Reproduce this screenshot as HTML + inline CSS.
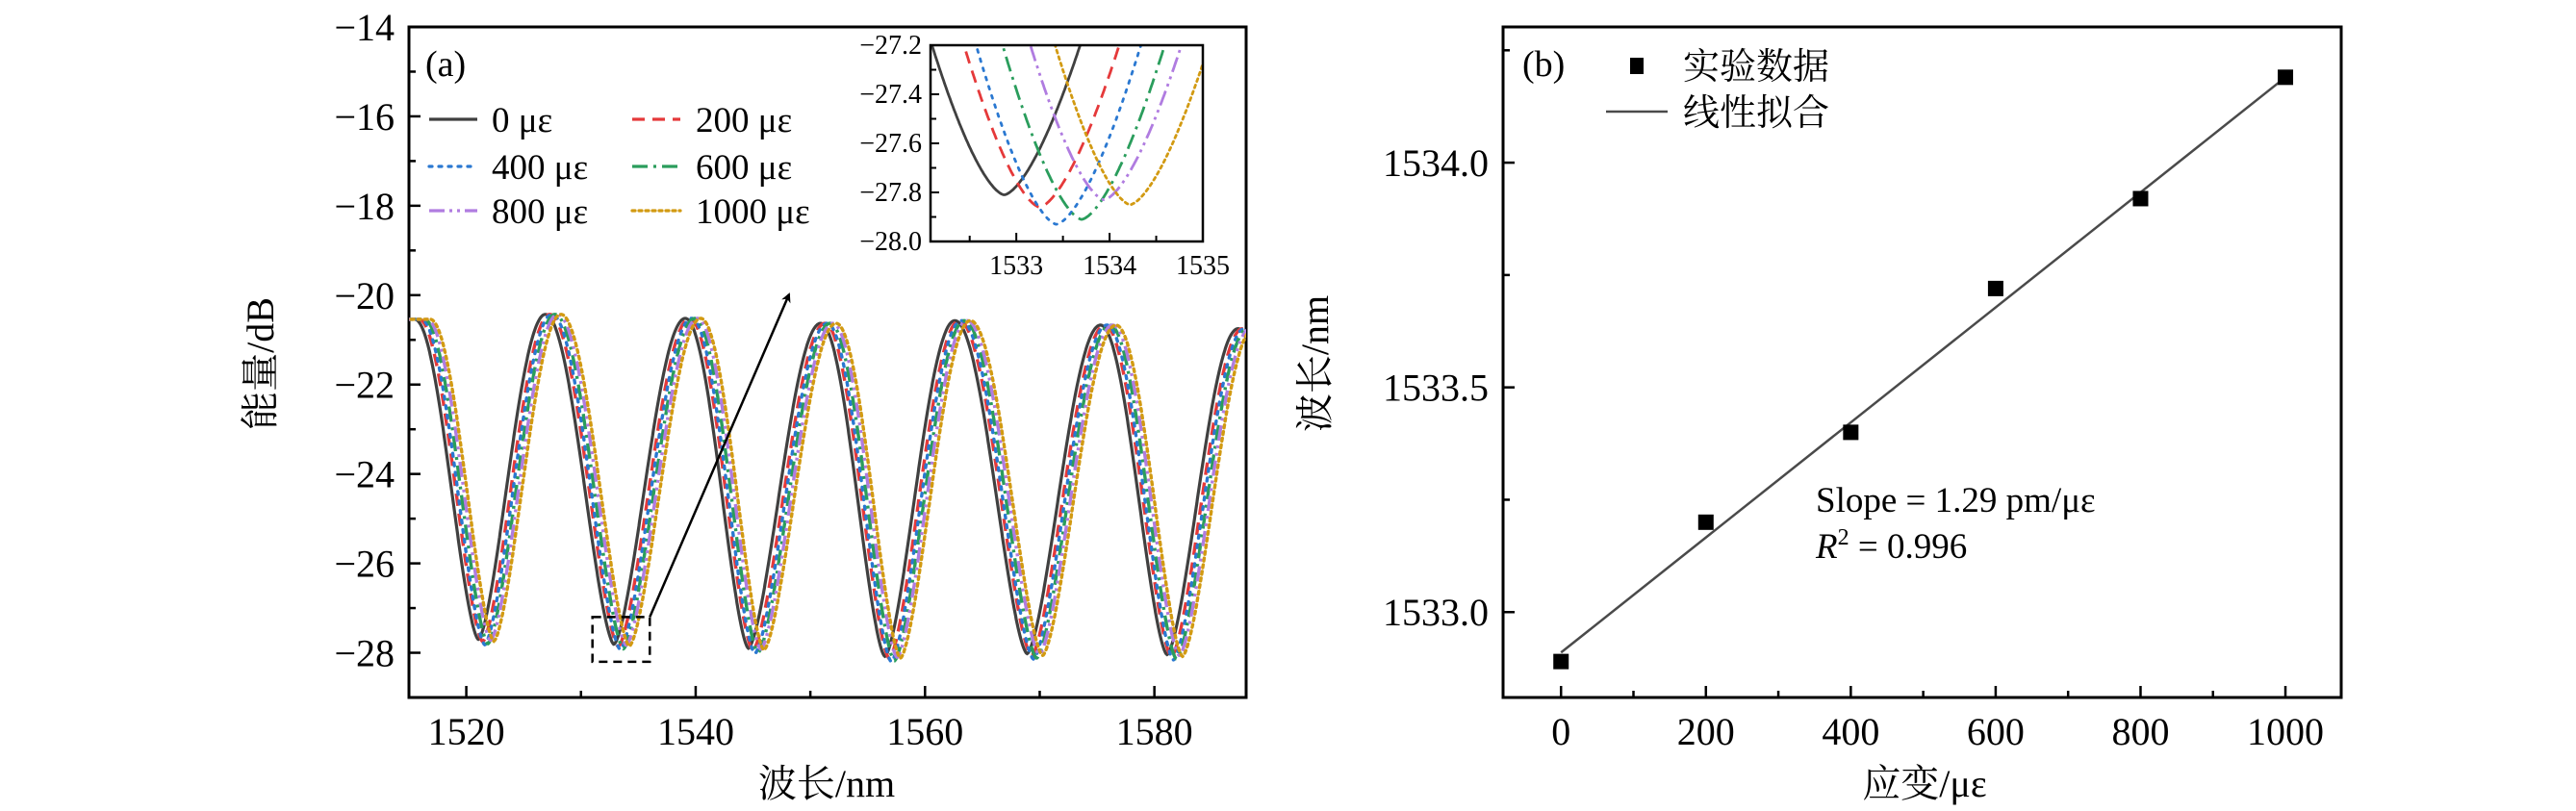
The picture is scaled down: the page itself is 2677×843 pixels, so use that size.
<!DOCTYPE html>
<html><head><meta charset="utf-8">
<style>
html,body{margin:0;padding:0;background:#fff;}
svg{display:block;font-family:"Liberation Serif","Noto Serif CJK SC",serif;}
</style></head>
<body>
<svg id="fig" width="2677" height="843" viewBox="0 0 2677 843" xmlns="http://www.w3.org/2000/svg">
<defs>
<clipPath id="clipA"><rect x="425" y="28" width="870" height="697"/></clipPath>
<clipPath id="clipI"><rect x="967" y="47" width="283" height="204"/></clipPath>
<marker id="arrowhead" markerWidth="10" markerHeight="10" refX="8" refY="5" orient="auto" markerUnits="userSpaceOnUse"><path d="M0,0 L10,5 L0,10 L3,5 z" fill="#000"/></marker>
</defs>
<g id="panelA"></g>
<g id="panelB"></g>
</svg>
<script>
// ---- Panel (a) data ----
const strainLabels = ["0 με","200 με","400 με","600 με","800 με","1000 με"];
const seriesShift = [0, 0.38, 0.56, 0.83, 1.07, 1.35];
const seriesDepthOffset = [0, -0.05, -0.12, -0.10, -0.02, -0.04];
const extremaX = [1515.5, 1521.05, 1526.9, 1532.87, 1539.1, 1544.6, 1550.9, 1556.5, 1562.6, 1568.9, 1575.3, 1581.1, 1587.3, 1593.0];
const extremaY = [-20.54, -27.7, -20.43, -27.81, -20.52, -27.9, -20.63, -28.08, -20.57, -28.02, -20.67, -28.04, -20.75, -27.9];
const extremaIsMin = [0,1,0,1,0,1,0,1,0,1,0,1,0,1];
const xTicksA = [1520, 1540, 1560, 1580];
const yTicksA = [-14, -16, -18, -20, -22, -24, -26, -28];
const insetXTicks = [1533, 1534, 1535];
const insetYTicks = [-27.2, -27.4, -27.6, -27.8, -28.0];
// ---- Panel (b) data ----
const strainValues = [0, 200, 400, 600, 800, 1000];
const peakWavelengths = [1532.89, 1533.20, 1533.40, 1533.72, 1533.92, 1534.19];
const fitEnds = [1532.91, 1534.19];
const xTicksB = [0, 200, 400, 600, 800, 1000];
const yTicksB = [1533.0, 1533.5, 1534.0];

const NS = "http://www.w3.org/2000/svg";
function mk(parent, tag, attrs, text){
  const e = document.createElementNS(NS, tag);
  for (const k in attrs) e.setAttribute(k, attrs[k]);
  if (text !== undefined) e.textContent = text;
  parent.appendChild(e); return e;
}
const colors = ["#404040","#e5393a","#2a78d1","#2a9d5c","#b07ce0","#d29a12"];
const dashes = ["", "13 8", "3 7", "16 6 3 6", "16 5 3 5 3 5", "3 4"];
const minus = "\u2212";
function fmt(v, d){ const s = Math.abs(v).toFixed(d); return (v<0?minus:"")+s; }

// ---------- Panel A ----------
const A = document.getElementById("panelA");
const ax = {x0:425,x1:1295,y0:28,y1:725, xmin:1515,xmax:1588,ymin:-29,ymax:-14};
const sxA = v => ax.x0 + (v-ax.xmin)/(ax.xmax-ax.xmin)*(ax.x1-ax.x0);
const syA = v => ax.y1 - (v-ax.ymin)/(ax.ymax-ax.ymin)*(ax.y1-ax.y0);

function curvePoints(si, x0, x1, step){
  const pts = [];
  const sh = seriesShift[si], dOff = seriesDepthOffset[si];
  for (let x = x0; x <= x1; x += step){
    const xs = x - sh;
    let i = 0;
    while (i < extremaX.length-2 && extremaX[i+1] < xs) i++;
    const xa = extremaX[i], xb = extremaX[i+1];
    let ya = extremaY[i] + (extremaIsMin[i]?dOff:0), yb = extremaY[i+1] + (extremaIsMin[i+1]?dOff:0);
    let t = (xs - xa)/(xb - xa); t = Math.max(0, Math.min(1, t));
    let vmin, vmax, tm;
    if (extremaIsMin[i]) { vmin = ya; vmax = yb; tm = t; } else { vmin = yb; vmax = ya; tm = 1 - t; }
    const s = Math.pow((1 - Math.cos(Math.PI*tm))/2, 0.78);
    pts.push([x, vmin + (vmax - vmin)*s]);
  }
  return pts;
}

mk(A,"rect",{x:ax.x0,y:ax.y0,width:ax.x1-ax.x0,height:ax.y1-ax.y0,fill:"none",stroke:"#000","stroke-width":3,});
const gCurves = mk(A,"g",{"clip-path":"url(#clipA)",});
for (let si=0; si<6; si++){
  const pts = curvePoints(si, 1514, 1589, 0.05);
  const d = pts.map((p,k)=>(k?"L":"M")+sxA(p[0]).toFixed(1)+","+syA(p[1]).toFixed(1)).join("");
  const p = mk(gCurves,"path",{d:d,fill:"none",stroke:colors[si],"stroke-width":si==0?3.2:3.4,"stroke-dasharray":dashes[si],"stroke-linecap":si==2||si==5?"round":"butt"});
  
  
}
for (let v=1520; v<=1580; v+=10){
  const major = (v%20===0);
  const t = mk(A,"line",{x1:sxA(v),x2:sxA(v),y1:ax.y1,y2:ax.y1-(major?12:7),stroke:"#000","stroke-width":2.5});
  
  
}
xTicksA.forEach(v=>{
  const t = mk(A,"text",{x:sxA(v),y:774,"font-size":40,"text-anchor":"middle"},String(v));
  
  
});
for (let v=-29; v<=-14; v+=1){
  const major = (v%2===0);
  const t = mk(A,"line",{x1:ax.x0,x2:ax.x0+(major?12:7),y1:syA(v),y2:syA(v),stroke:"#000","stroke-width":2.5});
  
  
}
yTicksA.forEach(v=>{
  const t = mk(A,"text",{x:410,y:syA(v)+14,"font-size":40,"text-anchor":"end"},fmt(v,0));
  
  
});
mk(A,"text",{x:859,y:828,"font-size":40,"text-anchor":"middle",},"波长/nm");
mk(A,"text",{x:284,y:378,"font-size":40,"text-anchor":"middle",transform:"rotate(-90 284 378)",},"能量/dB");
mk(A,"text",{x:442,y:79,"font-size":38,},"(a)");
const legX = [446, 657], legTX = [511, 723], legY = [124, 173, 219];
for (let si=0; si<6; si++){
  const c = si%2, r = Math.floor(si/2);
  const g = mk(A,"g",{});
  
  
  mk(g,"line",{x1:legX[c],x2:legX[c]+50,y1:legY[r],y2:legY[r],stroke:colors[si],"stroke-width":3.2,"stroke-dasharray":dashes[si],"stroke-linecap":si==2||si==5?"round":"butt"});
  mk(g,"text",{x:legTX[c],y:legY[r]+13,"font-size":37},strainLabels[si]);
}
mk(A,"rect",{x:sxA(1531),y:syA(-27.2),width:sxA(1536)-sxA(1531),height:syA(-28.2)-syA(-27.2),fill:"none",stroke:"#000","stroke-width":2.5,"stroke-dasharray":"9 6",});
mk(A,"line",{x1:sxA(1536),y1:syA(-27.2),x2:820,y2:306,stroke:"#000","stroke-width":2.5,"marker-end":"url(#arrowhead)",});

// inset
const inx = {x0:967,x1:1250,y0:47,y1:251,xmin:1532.08,xmax:1535,ymin:-28,ymax:-27.2};
const sxI = v => inx.x0 + (v-inx.xmin)/(inx.xmax-inx.xmin)*(inx.x1-inx.x0);
const syI = v => inx.y1 - (v-inx.ymin)/(inx.ymax-inx.ymin)*(inx.y1-inx.y0);
const I = mk(A,"g",{});
mk(I,"rect",{x:inx.x0,y:inx.y0,width:inx.x1-inx.x0,height:inx.y1-inx.y0,fill:"#fff",stroke:"none"});
const gI = mk(I,"g",{"clip-path":"url(#clipI)"});
for (let si=0; si<6; si++){
  const pts = curvePoints(si, 1531.9, 1535.2, 0.01);
  const d = pts.map((p,k)=>(k?"L":"M")+sxI(p[0]).toFixed(1)+","+syI(p[1]).toFixed(1)).join("");
  const p = mk(gI,"path",{d:d,fill:"none",stroke:colors[si],"stroke-width":2.8,"stroke-dasharray":dashes[si],"stroke-linecap":si==2||si==5?"round":"butt"});
  
  
}
mk(I,"rect",{x:inx.x0,y:inx.y0,width:inx.x1-inx.x0,height:inx.y1-inx.y0,fill:"none",stroke:"#000","stroke-width":2.5});
for (let v=1532.5; v<=1535; v+=0.5){
  const major = Math.abs(v-Math.round(v))<1e-6;
  mk(I,"line",{x1:sxI(v),x2:sxI(v),y1:inx.y1,y2:inx.y1-(major?9:6),stroke:"#000","stroke-width":2});
}
insetXTicks.forEach(v=>{
  const t = mk(I,"text",{x:sxI(v),y:285,"font-size":28,"text-anchor":"middle"},String(v));
  
  
});
for (let k=0; k<=8; k++){
  const v = -28 + k*0.1;
  mk(I,"line",{x1:inx.x0,x2:inx.x0+(k%2===0?9:6),y1:syI(v),y2:syI(v),stroke:"#000","stroke-width":2});
}
insetYTicks.forEach(v=>{
  const t = mk(I,"text",{x:958,y:syI(v)+9,"font-size":28,"text-anchor":"end"},fmt(v,1));
  
  
});

// ---------- Panel B ----------
const B = document.getElementById("panelB");
const bx = {x0:1562,x1:2433,y0:28,y1:725,xmin:-80,xmax:1077,ymin:1532.81,ymax:1534.302};
const sxB = v => bx.x0 + (v-bx.xmin)/(bx.xmax-bx.xmin)*(bx.x1-bx.x0);
const syB = v => bx.y1 - (v-bx.ymin)/(bx.ymax-bx.ymin)*(bx.y1-bx.y0);
mk(B,"rect",{x:bx.x0,y:bx.y0,width:bx.x1-bx.x0,height:bx.y1-bx.y0,fill:"none",stroke:"#000","stroke-width":3,});
for (let v=0; v<=1000; v+=100){
  const major = v%200===0;
  const t = mk(B,"line",{x1:sxB(v),x2:sxB(v),y1:bx.y1,y2:bx.y1-(major?12:7),stroke:"#000","stroke-width":2.5});
  
  
}
xTicksB.forEach(v=>{
  const t = mk(B,"text",{x:sxB(v),y:774,"font-size":40,"text-anchor":"middle"},String(v));
  
  
});
for (let v=1533.0; v<=1534.3; v+=0.25){
  const major = Math.abs(v*2-Math.round(v*2))<1e-6;
  const t = mk(B,"line",{x1:bx.x0,x2:bx.x0+(major?12:7),y1:syB(v),y2:syB(v),stroke:"#000","stroke-width":2.5});
  
  
}
yTicksB.forEach(v=>{
  const t = mk(B,"text",{x:1547,y:syB(v)+14,"font-size":40,"text-anchor":"end"},v.toFixed(1));
  
  
});
mk(B,"text",{x:2000,y:828,"font-size":40,"text-anchor":"middle",},"应变/με");
mk(B,"text",{x:1380,y:378,"font-size":40,"text-anchor":"middle",transform:"rotate(-90 1380 378)",},"波长/nm");
mk(B,"text",{x:1582,y:79,"font-size":38,},"(b)");
mk(B,"line",{x1:sxB(0),y1:syB(fitEnds[0]),x2:sxB(1000),y2:syB(fitEnds[1]),stroke:"#4a4a4a","stroke-width":2.5,});
strainValues.forEach((v,i)=>{
  const r = mk(B,"rect",{x:sxB(v)-8,y:syB(peakWavelengths[i])-8,width:16,height:16,fill:"#000"});
  
  
});
const lg = mk(B,"g",{});
mk(lg,"rect",{x:1694,y:60,width:14,height:17,fill:"#000"});
mk(lg,"text",{x:1749,y:82,"font-size":38},"实验数据");
mk(lg,"line",{x1:1669,x2:1733,y1:116,y2:116,stroke:"#4a4a4a","stroke-width":2.5});
mk(lg,"text",{x:1749,y:130,"font-size":38},"线性拟合");
mk(B,"text",{x:1887,y:532,"font-size":37,},"Slope = 1.29 pm/με");
const r2 = mk(B,"text",{x:1887,y:580,"font-size":37,});
mk(r2,"tspan",{"font-style":"italic"},"R");
mk(r2,"tspan",{"font-size":24,dy:-14},"2");
mk(r2,"tspan",{dy:14}," = 0.996");
</script>
</body></html>
